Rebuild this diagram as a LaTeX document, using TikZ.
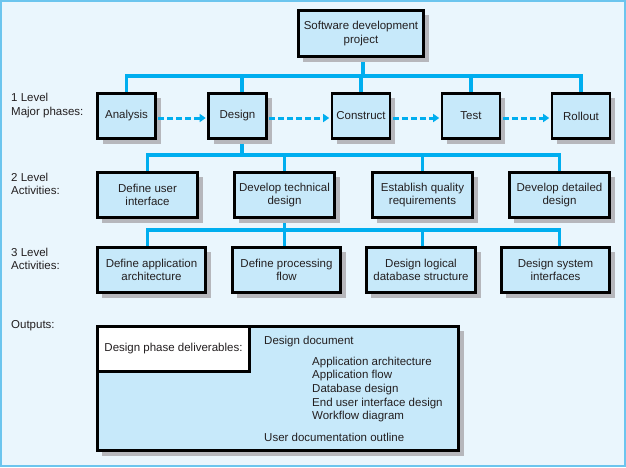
\documentclass[tikz,border=0pt]{standalone}
\usepackage{fontspec}
\setmainfont{Liberation Sans}
\usetikzlibrary{arrows.meta,shadows}
\definecolor{bgblue}{HTML}{EAF6FD}
\definecolor{boxblue}{HTML}{C7E9FA}
\definecolor{linecyan}{HTML}{00AEEF}
\definecolor{framecol}{HTML}{6CC5EE}
\definecolor{shadowgray}{HTML}{B6B7BC}
\definecolor{txt}{HTML}{231F20}
\pgfdeclarelayer{back}
\pgfdeclarelayer{mid}
\pgfsetlayers{back,mid,main}
\begin{document}
\begin{tikzpicture}[x=1pt,y=-1pt,
  every node/.style={text=txt, font=\fontsize{11.5}{13.6}\selectfont},
  box/.style={draw=black, line width=2.6pt, fill=boxblue, align=center, inner sep=0pt,
    drop shadow={shadow xshift=5pt, shadow yshift=-5pt, fill=shadowgray, opacity=1}},
  l1box/.style={box, minimum width=58pt, minimum height=45.4pt},
  l2box/.style={box, minimum width=100.4pt, minimum height=45.4pt},
  l3box/.style={box, minimum width=108.4pt, minimum height=45.4pt},
  tree/.style={draw=linecyan, line width=3.8pt},
  flow/.style={draw=linecyan, line width=3pt, dash pattern=on 6pt off 3pt,
    -{Triangle[length=6pt,width=8pt]}, shorten >=1.5pt, shorten <=1.5pt},
  lbl/.style={anchor=west, align=left, inner sep=0pt}
]
\useasboundingbox (0,0) rectangle (626,467);
\begin{pgfonlayer}{back}
\fill[bgblue] (0,0) rectangle (626,467);
\draw[framecol, line width=2pt] (1,1) rectangle (625,466);
\end{pgfonlayer}

% bar levels
\coordinate (b1) at (0,76);
\coordinate (b2) at (0,155);
\coordinate (b3) at (0,230);
\coordinate (topS) at (363,58);
\coordinate (dv) at (242,0);

% boxes
\node[box, minimum width=125.4pt, minimum height=46.4pt] (top) at (361,33.5) {Software development\\project};

\node[l1box] (analysis) at (126.5,116) {Analysis};
\node[l1box] (design) at (237.5,116) {Design};
\node[l1box] (construct) at (361,116) {Construct};
\node[l1box] (test) at (471,116) {Test};
\node[l1box] (rollout) at (581,116) {Rollout};

\node[l2box] (l2a) at (147.5,195) {Define user\\interface};
\node[l2box] (l2b) at (284.5,195) {Develop technical\\design};
\node[l2box] (l2c) at (422.5,195) {Establish quality\\requirements};
\node[l2box] (l2d) at (559.5,195) {Develop detailed\\design};

\node[l3box] (l3a) at (151.5,270) {Define application\\architecture};
\node[l3box] (l3b) at (286.5,270) {Define processing\\flow};
\node[l3box, minimum width=109.4pt] (l3c) at (421,270) {Design logical\\database structure};
\node[l3box] (l3d) at (555.5,270) {Design system\\interfaces};

\begin{pgfonlayer}{mid}
% level 1 tree
\draw[tree] (top.south -| topS) -- (topS |- b1);
\draw[tree] (analysis.north) -- (analysis |- b1) -- (rollout |- b1) -- (rollout.north);
\draw[tree] (design.north -| dv) -- (dv |- b1);
\draw[tree] (construct.north) -- (construct |- b1);
\draw[tree] (test.north) -- (test |- b1);
% level 2 tree
\draw[tree] (design.south -| dv) -- (dv |- b2);
\draw[tree] (l2a.north) -- (l2a |- b2) -- (l2d |- b2) -- (l2d.north);
\draw[tree] (l2b.north) -- (l2b |- b2);
\draw[tree] (l2c.north) -- (l2c |- b2);
% level 3 tree
\draw[tree] (l2b.south) -- (l2b |- b3);
\draw[tree] (l3a.north -| l2a) -- (l2a |- b3) -- (l2d |- b3) -- (l3d.north -| l2d);
\draw[tree] (l3b.north -| l2b) -- (l2b |- b3);
\draw[tree] (l3c.north -| l2c) -- (l2c |- b3);
\end{pgfonlayer}

% dashed flow arrows
\draw[flow] ([yshift=-2pt]analysis.east) -- ([yshift=-2pt]design.west);
\draw[flow] ([yshift=-2pt]design.east) -- ([yshift=-2pt]construct.west);
\draw[flow] ([yshift=-2pt]construct.east) -- ([yshift=-2pt]test.west);
\draw[flow] ([yshift=-2pt]test.east) -- ([yshift=-2pt]rollout.west);

% side labels
\node[lbl] (lab1) at (11,105.5) {1 Level\\Major phases:};
\node[lbl] (lab2) at (11,184) {2 Level\\Activities:};
\node[lbl] (lab3) at (11,259) {3 Level\\Activities:};
\node[lbl] (lab4) at (11,326) {Outputs:};

% outputs
\node[box, minimum width=361.4pt, minimum height=124.4pt] (out) at (278,388.5) {};
\node[draw=black, line width=2.6pt, fill=white, minimum width=152.4pt, minimum height=45.4pt, inner sep=0pt] (deliv) at (173.5,349) {Design phase deliverables:};
\node[lbl] (doc) at (264,342) {Design document};
\node[lbl] (items) at (312,389.5) {Application architecture\\Application flow\\Database design\\End user interface design\\Workflow diagram};
\node[lbl] (userdoc) at (264,437) {User documentation outline};
\end{tikzpicture}
\end{document}
